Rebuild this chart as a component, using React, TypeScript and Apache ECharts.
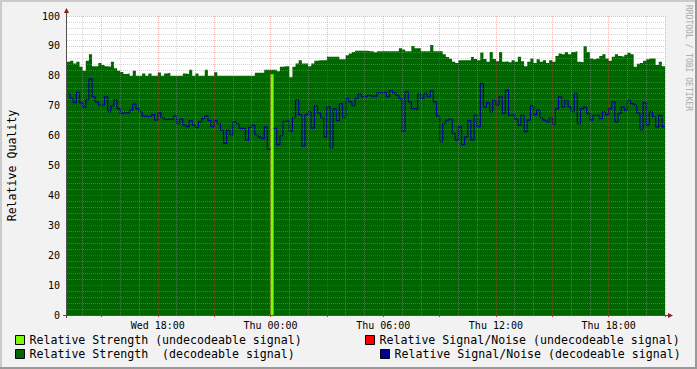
import React, { useEffect, useRef } from "react";
import * as echarts from "echarts";

// ---- data (10-minute samples, first sample starts Wed 13:10) ----
const startMinute = 790; // minutes since Wed 00:00  (Wed 13:10)
const endMinute = 2700; // Thu 21:00
const stepMinutes = 10;

const tickLabels = ["Wed 18:00", "Thu 00:00", "Thu 06:00", "Thu 12:00", "Thu 18:00"];

const strengthDecodable: (number | null)[] = [
  84.7, 85.0, 84.1, 84.7, 83.0, 81.7, 85.0, 87.2, 83.2, 83.2,
  84.3, 83.6, 83.2, 83.0, 84.7, 82.5, 81.7, 81.3, 80.6, 80.8,
  80.0, 81.7, 80.0, 80.0, 80.8, 80.0, 80.8, 80.0, 80.0, 81.1,
  80.0, 80.8, 81.0, 80.0, 80.0, 80.0, 80.0, 80.8, 80.6, 82.0,
  80.0, 80.8, 80.0, 80.0, 82.0, 80.0, 80.0, 81.2, 80.0, 80.0,
  80.0, 80.0, 80.0, 80.0, 80.0, 80.0, 80.0, 80.0, 80.0, 80.0,
  81.0, 81.0, 81.0, 82.0, 82.0, 82.0, 82.0, 81.5, 83.0, 83.2,
  83.2, 79.5, 83.0, 84.1, 85.2, 84.1, 84.1, 83.2, 84.1, 85.0,
  85.2, 85.2, 85.2, 86.4, 86.4, 86.4, 86.4, 85.5, 85.5, 86.9,
  87.5, 88.0, 88.4, 88.4, 88.4, 88.4, 88.2, 88.2, 87.9, 88.2,
  88.2, 88.2, 88.2, 88.2, 88.2, 88.2, 89.2, 88.8, 88.2, 88.2,
  90.0, 89.2, 89.2, 88.2, 88.2, 88.2, 90.3, 88.2, 88.2, 88.2,
  87.2, 86.3, 85.7, 84.7, 84.3, 85.2, 85.2, 85.2, 85.2, 86.3,
  85.6, 85.2, 87.8, 85.6, 84.7, 88.0, 85.6, 84.9, 88.0, 84.7,
  84.9, 84.5, 85.2, 84.7, 86.4, 84.9, 83.2, 84.7, 85.8, 84.3,
  85.5, 84.7, 85.2, 84.3, 85.2, 84.7, 86.6, 87.5, 87.2, 88.0,
  87.2, 88.0, 88.2, 84.7, 84.5, 89.9, 88.0, 85.8, 85.5, 85.8,
  86.6, 87.2, 85.8, 85.0, 86.4, 87.2, 86.6, 86.4, 87.0, 87.7,
  87.2, 83.0, 84.0, 84.3, 85.0, 85.5, 85.8, 85.8, 83.6, 84.7,
  83.2,
];

const snrDecodable: (number | null)[] = [
  74.0, 72.5, 71.0, 74.5, 71.0, 69.5, 72.0, 79.0, 73.0, 71.3,
  70.2, 70.2, 73.0, 68.0, 70.0, 72.0, 69.0, 67.5, 67.6, 67.6,
  68.5, 70.5, 69.0, 68.0, 66.5, 66.3, 66.3, 67.0, 65.2, 67.6,
  66.0, 65.4, 65.4, 65.5, 66.5, 64.0, 65.5, 63.5, 63.0, 65.0,
  63.5, 62.7, 64.6, 65.7, 66.5, 65.0, 63.0, 65.0, 64.0, 61.8,
  57.4, 61.8, 60.2, 64.6, 64.0, 62.4, 62.4, 58.5, 62.8, 63.5,
  60.2, 59.5, 59.0, 62.9, 55.5, null, 62.4, 57.0, 60.0, 64.8,
  65.0, 61.5, 66.0, 72.0, 67.0, 56.5, 67.0, 68.0, 62.5, 70.0,
  67.5, 66.0, 59.6, 69.6, 56.0, 69.0, 65.0, 70.7, 66.0, 72.4,
  71.3, 70.0, 72.4, 74.0, 73.0, 73.2, 73.5, 73.2, 73.2, 74.3,
  74.3, 74.5, 73.0, 75.0, 74.3, 73.5, 72.4, 61.5, 74.6, 71.3,
  69.0, 68.8, 74.0, 72.4, 74.1, 73.0, 75.0, 71.3, 66.5, 58.0,
  64.0, 65.2, 65.5, 60.7, 58.5, 63.0, 57.0, 59.6, 65.0, 58.5,
  66.8, 63.0, 77.4, 69.6, 71.0, 68.0, 71.9, 70.2, 73.0, 67.4,
  75.2, 66.8, 67.0, 65.5, 63.5, 66.8, 61.3, 65.2, 70.0, 67.0,
  68.5, 66.0, 65.2, 64.6, 66.0, 63.8, 69.0, 73.0, 69.6, 71.9,
  69.6, 68.0, 74.1, 64.0, 69.0, 69.5, 67.4, 65.2, 66.8, 66.8,
  65.7, 68.0, 67.0, 69.0, 71.3, 64.6, 67.4, 69.6, 68.5, 71.9,
  70.7, 70.2, 67.5, 62.0, 71.0, 63.5, 68.0, 66.3, 62.9, 66.8,
  63.0,
];

// undecodeable signal samples (sparse): start time of the sample and value
const undecodableTimes = ["Thu 00:00"];
const strengthUndecodable = [80.5];
const snrUndecodable: (number | null)[] = [null];

const names = {
  strengthUndec: "Relative Strength (undecodeable signal)",
  strengthDec: "Relative Strength  (decodeable signal)",
  snrUndec: "Relative Signal/Noise (undecodeable signal)",
  snrDec: "Relative Signal/Noise (decodeable signal)",
};

// ---- helpers ----
function minuteLabel(m: number): string {
  const day = m < 1440 ? "Wed" : "Thu";
  const r = m % 1440;
  const hh = Math.floor(r / 60);
  const mm = r % 60;
  return `${day} ${String(hh).padStart(2, "0")}:${String(mm).padStart(2, "0")}`;
}

const categories: string[] = [];
for (let m = startMinute; m <= endMinute; m += stepMinutes) categories.push(minuteLabel(m));

function stepPairs(values: (number | null)[]) {
  const out: any[] = [];
  values.forEach((v, i) => {
    const t0 = startMinute + i * stepMinutes;
    if (v == null) {
      out.push([t0 + stepMinutes / 2, "-"]);
      return;
    }
    out.push([t0, v], [t0 + stepMinutes, v]);
  });
  return out;
}

function sparsePairs(times: string[], values: (number | null)[]) {
  const out: any[] = [];
  times.forEach((lab, k) => {
    const v = values[k];
    const idx = categories.indexOf(lab);
    if (idx < 0 || v == null) return;
    const t0 = startMinute + idx * stepMinutes;
    if (out.length) out.push([t0 - 1, "-"]);
    out.push([t0, v], [t0 + stepMinutes, v]);
  });
  return out;
}

function hourOf(label: string) {
  return parseInt(label.slice(4, 6), 10);
}
function isFullHour(label: string) {
  return label.endsWith(":00");
}

const MONO = "DejaVu Sans Mono";

export default function App() {
  const ref = useRef<HTMLDivElement>(null);

  useEffect(() => {
    if (!ref.current) return;
    const chart = echarts.init(ref.current, undefined, { renderer: "svg" });

    const legendCommon = {
      orient: "horizontal",
      padding: 0,
      icon: "rect",
      itemWidth: 9,
      itemHeight: 9,
      itemGap: 0,
      selectedMode: false,
      itemStyle: { borderColor: "#000", borderWidth: 1 },
      textStyle: { fontFamily: MONO, fontSize: 11.6, color: "#000" },
    };

    const minorGrid = "rgba(160,160,160,0.42)";
    const majorGrid = "rgba(210,70,70,0.38)";

    chart.setOption({
      animation: false,
      backgroundColor: "#f2f2f2",
      grid: {
        left: 67,
        top: 16,
        width: 598,
        height: 299,
        containLabel: false,
        outerBoundsMode: "none",
        show: true,
        backgroundColor: "#ffffff",
        borderWidth: 0,
      },
      xAxis: [
        {
          type: "value",
          position: "bottom",
          min: startMinute,
          max: endMinute,
          show: false,
        },
        {
          type: "category",
          position: "bottom",
          data: categories,
          boundaryGap: false,
          z: 10,
          axisLine: { show: false },
          axisTick: { show: false },
          axisLabel: { show: false },
          splitLine: {
            show: true,
            interval: (_i: number, v: string) => isFullHour(v) && hourOf(v) % 3 !== 0,
            lineStyle: { color: minorGrid, width: 1, type: [1, 1] },
          },
        },
        {
          type: "category",
          position: "bottom",
          data: categories,
          boundaryGap: false,
          z: 10,
          axisLine: { show: false },
          axisTick: {
            show: true,
            interval: (_i: number, v: string) => isFullHour(v) && hourOf(v) % 3 === 0,
            length: 2,
            lineStyle: { color: "#c04040" },
          },
          axisLabel: {
            show: true,
            interval: (_i: number, v: string) => tickLabels.includes(v),
            fontFamily: MONO,
            fontSize: 10,
            color: "#000",
            margin: 5,
          },
          splitLine: {
            show: true,
            interval: (_i: number, v: string) => isFullHour(v) && hourOf(v) % 3 === 0,
            lineStyle: { color: majorGrid, width: 1, type: [1, 1] },
          },
        },
      ],
      yAxis: {
        type: "value",
        min: 0,
        max: 100,
        interval: 10,
        z: 10,
        name: "Relative Quality",
        nameLocation: "middle",
        nameRotate: 90,
        nameGap: 49,
        nameTextStyle: { fontFamily: MONO, fontSize: 11.6, color: "#000" },
        axisLine: { show: false },
        axisTick: { show: false },
        axisLabel: { fontFamily: MONO, fontSize: 10, color: "#000", margin: 7 },
        splitLine: { show: true, lineStyle: { color: majorGrid, width: 1, type: [1, 1] } },
        minorTick: { show: false, splitNumber: 5 },
        minorSplitLine: { show: true, lineStyle: { color: minorGrid, width: 1, type: [1, 1] } },
      },
      legend: [
        { ...legendCommon, left: 15, top: 334, data: [names.strengthUndec] },
        { ...legendCommon, left: 15, top: 348, data: [names.strengthDec] },
        { ...legendCommon, left: 365, top: 334, data: [names.snrUndec] },
        { ...legendCommon, left: 380, top: 348, data: [names.snrDec] },
      ],
      series: [
        {
          name: names.strengthDec,
          type: "line",
          xAxisIndex: 0,
          color: "#006600",
          itemStyle: { color: "#006600" },
          data: stepPairs(strengthDecodable),
          symbol: "none",
          lineStyle: { width: 0, color: "#006600" },
          areaStyle: { color: "#006600", opacity: 1 },
          z: 2,
        },
        {
          name: names.strengthUndec,
          type: "line",
          xAxisIndex: 0,
          color: "#7cfc00",
          itemStyle: { color: "#7cfc00" },
          data: sparsePairs(undecodableTimes, strengthUndecodable),
          symbol: "none",
          lineStyle: { width: 0, color: "#7cfc00" },
          areaStyle: { color: "#7cfc00", opacity: 1 },
          z: 3,
        },
        {
          name: names.snrUndec,
          type: "line",
          xAxisIndex: 0,
          color: "#ff0000",
          itemStyle: { color: "#ff0000" },
          data: sparsePairs(undecodableTimes, snrUndecodable),
          symbol: "none",
          lineStyle: { width: 1, color: "#ff0000" },
          z: 4,
        },
        {
          name: names.snrDec,
          type: "line",
          xAxisIndex: 0,
          color: "#000099",
          itemStyle: { color: "#000099" },
          data: stepPairs(snrDecodable),
          symbol: "none",
          lineStyle: { width: 1.2, color: "#000099" },
          z: 4,
        },
      ],
      graphic: [
        // frame
        { type: "rect", shape: { x: 0, y: 0, width: 697, height: 2 }, style: { fill: "#cbcbcb" }, z: 50 },
        { type: "rect", shape: { x: 0, y: 0, width: 2, height: 369 }, style: { fill: "#cbcbcb" }, z: 50 },
        { type: "rect", shape: { x: 0, y: 367, width: 697, height: 2 }, style: { fill: "#999999" }, z: 50 },
        { type: "rect", shape: { x: 695, y: 0, width: 2, height: 369 }, style: { fill: "#999999" }, z: 50 },
        // axes
        { type: "line", shape: { x1: 66.5, y1: 12, x2: 66.5, y2: 318 }, style: { stroke: "#505050", lineWidth: 1 }, z: 40 },
        { type: "line", shape: { x1: 63, y1: 315.5, x2: 669, y2: 315.5 }, style: { stroke: "#505050", lineWidth: 1 }, z: 40 },
        { type: "polygon", shape: { points: [[64, 13], [69, 13], [66.5, 8]] }, style: { fill: "#8b1a1a" }, z: 41 },
        { type: "polygon", shape: { points: [[668, 313], [668, 318], [673, 315.5]] }, style: { fill: "#8b1a1a" }, z: 41 },
        // watermark
        {
          type: "text",
          x: 692,
          y: 5,
          rotation: -Math.PI / 2,
          style: {
            text: "RRDTOOL / TOBI OETIKER",
            fontFamily: MONO,
            fontSize: 8,
            fill: "#a8a8a8",
            align: "left",
            verticalAlign: "top",
          },
          z: 40,
        },
      ],
    });

    return () => chart.dispose();
  }, []);

  return (
    <div
      ref={ref}
      style={{ position: "fixed", left: 0, top: 0, width: 697, height: 369 }}
    />
  );
}
